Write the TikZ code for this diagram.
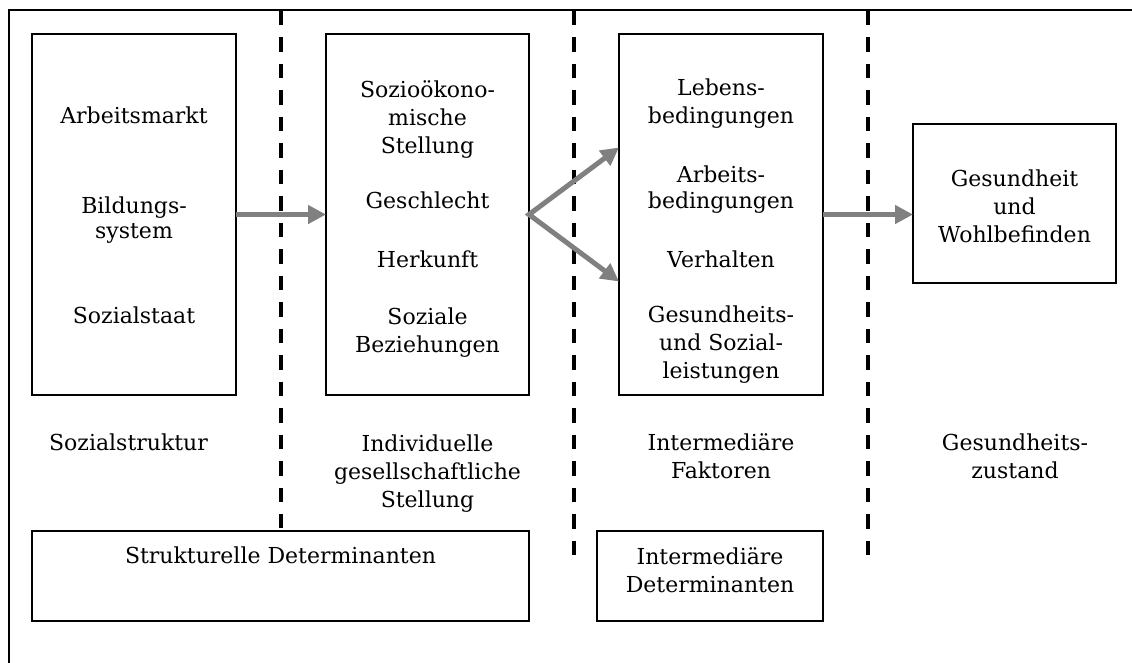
\documentclass[tikz,border=0pt]{standalone}
\usepackage{fontspec}
\setmainfont{DejaVu Serif}
\usetikzlibrary{arrows.meta}

\begin{document}
\begin{tikzpicture}[x=1pt,y=-1pt,
  >={Triangle[length=18pt,width=18pt]},
  kasten/.style={draw, line width=1.3pt, inner sep=0pt, outer sep=0pt},
  txt/.style={anchor=base, align=center, font=\fontsize{22}{28}\selectfont},
  pfeil/.style={draw=gray, line width=5pt},
  trenn/.style={line width=3.3pt, dash pattern=on 14.5pt off 12pt}]
\useasboundingbox (0,0) rectangle (1132,662);
\clip (0,0) rectangle (1132,662);
\draw [line width=1.3pt] (9,10) rectangle (1160,700);

% Trennlinien
\draw [trenn] (281,10.5)--(281,528);
\draw [trenn] (574,10.5)--(574,555);
\draw [trenn] (868,10.5)--(868,555);

% Kaesten
\node [kasten, minimum width=204pt, minimum height=361pt] (sozial) at (134,214.5) {};
\node [kasten, minimum width=203pt, minimum height=361pt] (stellung) at (427.5,214.5) {};
\node [kasten, minimum width=204pt, minimum height=361pt] (faktoren) at (721,214.5) {};
\node [kasten, minimum width=203pt, minimum height=159pt] (gesund) at (1014.5,203.5) {};
\node [kasten, minimum width=497pt, minimum height=90pt] (strukt) at (280.5,576) {};
\node [kasten, minimum width=226pt, minimum height=90pt] (interdet) at (710,576) {};

% Inhalte (base = letzte Zeile)
\node [txt] (arbeit) at (134,123) {Arbeitsmarkt};
\node [txt] (bildung) at (134,238) {Bildungs-\\[-3pt]system};
\node [txt] (staat) at (134,323) {Sozialstaat};

\node [txt] (soziooek) at (427.5,153) {Sozioökono-\\mische\\Stellung};
\node [txt] (geschl) at (427.5,208) {Geschlecht};
\node [txt] (herkunft) at (427.5,267) {Herkunft};
\node [txt] (bezieh) at (427.5,352) {Soziale\\Beziehungen};

\node [txt] (leben) at (721,123) {Lebens-\\bedingungen};
\node [txt] (arbbed) at (721,208) {Arbeits-\\[-2pt]bedingungen};
\node [txt] (verh) at (721,267) {Verhalten};
\node [txt] (leist) at (721,378) {Gesundheits-\\und Sozial-\\leistungen};

\node [txt] (wohl) at (1014.5,242) {Gesundheit\\und\\Wohlbefinden};

% Ebenen
\node [txt] (lsozial) at (128.5,450) {Sozialstruktur};
\node [txt] (lstellung) at (427.5,507) {Individuelle\\gesellschaftliche\\Stellung};
\node [txt] (lfaktoren) at (721,478) {Intermediäre\\Faktoren};
\node [txt] (lgesund) at (1015,478) {Gesundheits-\\zustand};
\node [txt] (lstrukt) at ([yshift=-32pt]strukt.north) {Strukturelle Determinanten};
\node [txt] (linter) at ([yshift=-61pt]interdet.north) {Intermediäre\\Determinanten};

% Pfeile
\draw [pfeil, ->] (sozial.east) -- (stellung.west);
\draw [pfeil, <->] ([yshift=67pt]faktoren.west) -- (stellung.east) -- ([yshift=-67pt]faktoren.west);
\draw [pfeil, ->] (faktoren.east) -- (faktoren.east -| gesund.west);

\end{tikzpicture}
\end{document}
